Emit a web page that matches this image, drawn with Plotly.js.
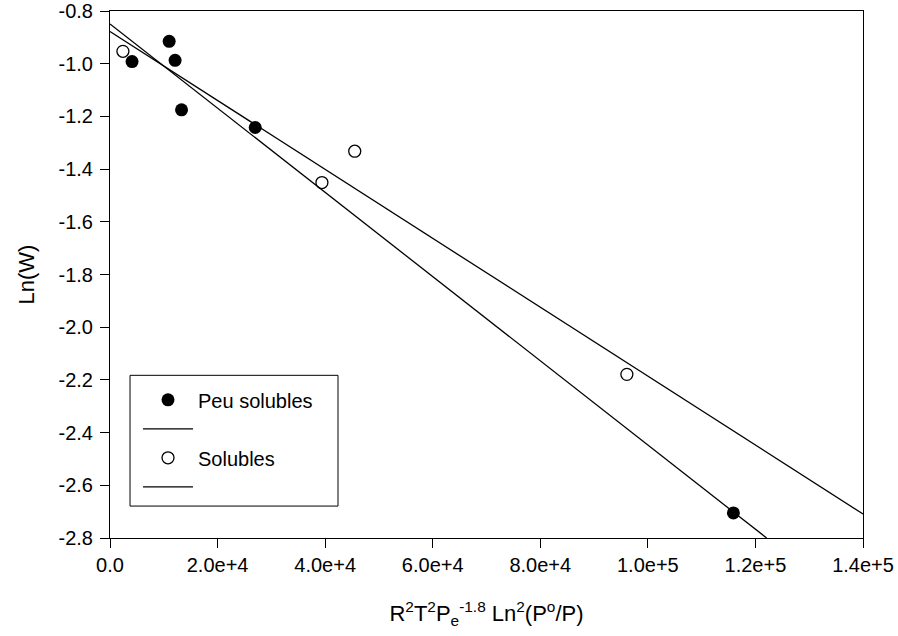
<!DOCTYPE html>
<html>
<head>
<meta charset="utf-8">
<script src="https://cdn.plot.ly/plotly-3.0.1.min.js"></script>
<style>
  html, body { margin: 0; padding: 0; background: #fff; }
  #chart { width: 898px; height: 636px; }
</style>
</head>
<body>
<div id="chart"></div>
<script>
// Measured points: Ln(W) against R²T²Pe^-1.8 Ln²(P°/P)
var peuX = [4100, 11000, 12100, 13300, 27000, 115900];
var peuY = [-0.992, -0.915, -0.987, -1.175, -1.242, -2.705];
var solX = [2400, 39400, 45500, 96100];
var solY = [-0.953, -1.451, -1.332, -2.179];

// Linear fits (end points of each regression line)
var peuFitX = [0, 122080];
var peuFitY = [-0.849, -2.800];
var solFitX = [0, 140000];
var solFitY = [-0.878, -2.709];

// Axis ticks
var xTickVals = [0, 20000, 40000, 60000, 80000, 100000, 120000, 140000];
var xTickText = ['0.0', '2.0e+4', '4.0e+4', '6.0e+4', '8.0e+4', '1.0e+5', '1.2e+5', '1.4e+5'];
var yTickVals = [-0.8, -1.0, -1.2, -1.4, -1.6, -1.8, -2.0, -2.2, -2.4, -2.6, -2.8];
var yTickText = ['-0.8', '-1.0', '-1.2', '-1.4', '-1.6', '-1.8', '-2.0', '-2.2', '-2.4', '-2.6', '-2.8'];

var FONT = 'Liberation Sans, Arial, sans-serif';

var traces = [
  {
    x: peuX, y: peuY, type: 'scatter', mode: 'markers', name: 'Peu solubles',
    marker: { symbol: 'circle', size: 13, color: '#000', line: { width: 0 } },
    cliponaxis: false
  },
  {
    x: peuFitX, y: peuFitY, type: 'scatter', mode: 'lines', name: ' ',
    line: { color: '#000', width: 1.3 }
  },
  {
    x: solX, y: solY, type: 'scatter', mode: 'markers', name: 'Solubles',
    marker: { symbol: 'circle-open', size: 12, color: '#000', line: { width: 1.3, color: '#000' } },
    cliponaxis: false
  },
  {
    x: solFitX, y: solFitY, type: 'scatter', mode: 'lines', name: ' ',
    line: { color: '#000', width: 1.3 }
  }
];

var axisCommon = {
  showline: true, linecolor: '#000', linewidth: 1, mirror: true,
  ticks: 'outside', ticklen: 9, tickwidth: 1, tickcolor: '#000',
  showgrid: false, zeroline: false, automargin: false,
  ticklabeloverflow: 'allow',
  tickfont: { family: FONT, size: 20, color: '#000' }
};

var layout = {
  width: 898, height: 636,
  margin: { l: 110, r: 35, t: 11, b: 98, pad: 0 },
  paper_bgcolor: '#fff', plot_bgcolor: '#fff',
  font: { family: FONT, color: '#000' },
  showlegend: true,
  legend: {
    x: 0.0372, y: 0.2992, xanchor: 'left', yanchor: 'top',
    borderwidth: 0, bgcolor: 'rgba(0,0,0,0)',
    font: { family: FONT, size: 20, color: '#000' },
    itemwidth: 50, tracegroupgap: 0
  },
  // frame around the legend entries
  shapes: [{
    type: 'rect', xref: 'paper', yref: 'paper',
    x0: 0.0266, x1: 0.3028, y0: 0.0606, y1: 0.3087,
    line: { color: '#000', width: 1 }, fillcolor: 'rgba(0,0,0,0)', layer: 'above'
  }],
  xaxis: Object.assign({}, axisCommon, {
    range: [0, 140000], tickmode: 'array', tickvals: xTickVals, ticktext: xTickText,
    title: { text: 'R<sup>2</sup>T<sup>2</sup>P<sub>e</sub><sup>-1.8</sup> Ln<sup>2</sup>(P<sup>o</sup>/P)',
             font: { family: FONT, size: 22, color: '#000' }, standoff: 30 }
  }),
  yaxis: Object.assign({}, axisCommon, {
    range: [-2.8, -0.79995], tickmode: 'array', tickvals: yTickVals, ticktext: yTickText,
    ticklabelstandoff: 3,
    title: { text: 'Ln(W)', font: { family: FONT, size: 22, color: '#000' }, standoff: 17 }
  })
};

Plotly.newPlot('chart', traces, layout, { displayModeBar: false, staticPlot: true });
</script>
</body>
</html>
